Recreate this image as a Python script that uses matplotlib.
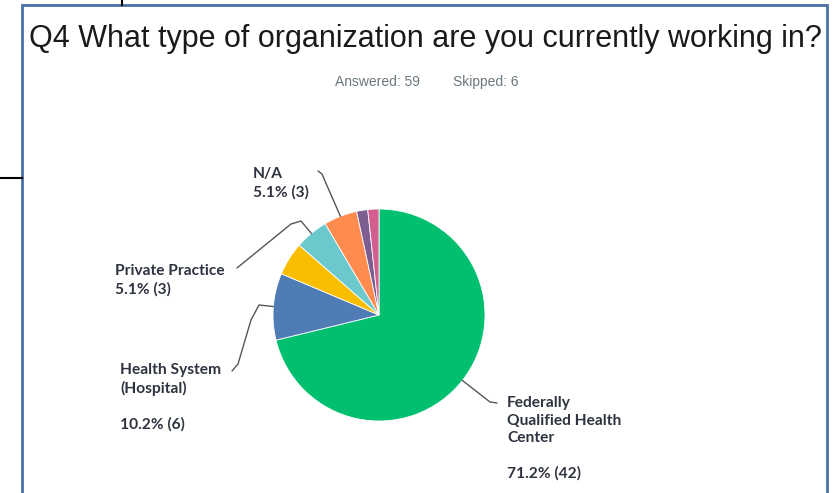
import matplotlib
matplotlib.use("Agg")
import matplotlib.pyplot as plt
import numpy as np

# ---------------- data ----------------
categories = ["Federally Qualified Health Center", "Health System (Hospital)", "Other",
              "Private Practice", "N/A", "Other 2", "Other 3"]
counts = [42, 6, 3, 3, 3, 1, 1]
label_texts = ["Federally\nQualified Health\nCenter\n\n71.2% (42)",
               "Health System\n(Hospital)\n\n10.2% (6)",
               "",
               "Private Practice\n5.1% (3)",
               "N/A\n5.1% (3)",
               "", ""]
colors = ["#00BF6F", "#507CB6", "#F9BE00", "#6BC8CD", "#FF8B4F", "#7D5E90", "#D25F90"]
title = "Q4 What type of organization are you currently working in?"
answered = "Answered: 59"
skipped = "Skipped: 6"

# ---------------- layout ----------------
W, H = 833, 493
fig = plt.figure(figsize=(W / 100, H / 100), dpi=100)
ax = fig.add_axes([0, 0, 1, 1])

cx, cy, R = 379, 315, 106
wedges, _ = ax.pie(counts, colors=colors, startangle=-90, counterclock=True,
                   center=(cx, cy), radius=R,
                   wedgeprops=dict(linewidth=0.6, edgecolor="white"))
ax.set_xlim(0, W)
ax.set_ylim(H, 0)
ax.set_aspect("auto")
ax.axis("off")

# label positions (left, top) and leader paths (after the wedge anchor)
label_pos = {0: (507, 396), 1: (120, 363), 3: (115, 264), 4: (253, 167)}
leader_paths = {
    0: [(490, 402), (497, 403)],
    1: [(259, 305), (251, 320), (238, 364), (232, 371)],
    3: [(301, 221), (291, 224), (237, 268)],
    4: [(325, 181), (322, 174), (318, 171)],
}

lab_color = "#2e3340"
for i, w in enumerate(wedges):
    if not label_texts[i]:
        continue
    mid = np.deg2rad((w.theta1 + w.theta2) / 2)
    ax0 = cx + R * np.cos(mid)
    ay0 = cy + R * np.sin(mid)
    pts = [(ax0, ay0)] + leader_paths[i]
    xs, ys = zip(*pts)
    ax.plot(xs, ys, color="#555555", lw=1.0, solid_joinstyle="round",
            solid_capstyle="round")
    lx, ly = label_pos[i]
    ax.text(lx, ly, label_texts[i], ha="left", va="top", fontsize=11.2,
            fontweight="bold", family="Lato", color=lab_color, linespacing=1.32)

# title + subtitle
t = fig.text(425 / W, 1 - 47 / H, title, ha="center", va="baseline",
             fontsize=21, family="Liberation Sans", color="#1a1a1a")
fig.canvas.draw()
bb = t.get_window_extent()
t.set_fontsize(21 * 795 / bb.width)
fig.text(335 / W, 1 - 82 / H, answered, ha="left", va="center",
         fontsize=10, family="Liberation Sans", color="#6b7880")
fig.text(453 / W, 1 - 82 / H, skipped, ha="left", va="center",
         fontsize=10, family="Liberation Sans", color="#6b7880")

# frame lines
ax.plot([22, 22, 827, 827], [H + 5, 5, 5, H + 5], color="#4a6fa5", lw=2,
        solid_joinstyle="miter", clip_on=False)
ax.plot([0, 22], [178, 178], color="black", lw=1.5)
ax.plot([122, 122], [0, 5], color="black", lw=1.5)

fig.savefig("out.png", dpi=100)
